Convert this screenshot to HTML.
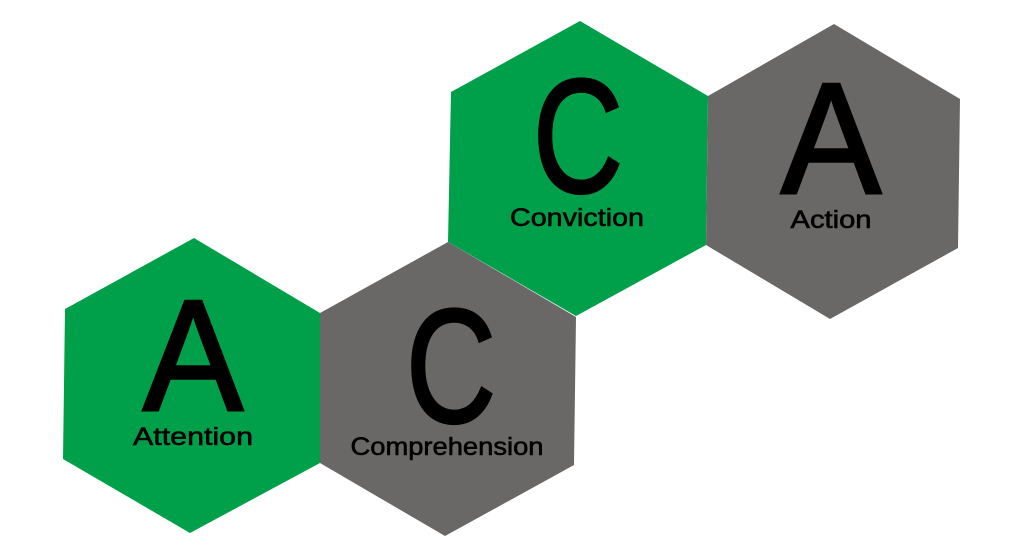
<!DOCTYPE html>
<html><head><style>
html,body{margin:0;padding:0;background:#fff;width:1024px;height:556px;overflow:hidden}
svg{display:block}
text{font-family:"Liberation Sans",sans-serif;fill:#000;text-anchor:middle}
.big{stroke:#000;stroke-width:3}
.sm{stroke:#000;stroke-width:0.6}
</style></head><body>
<svg width="1024" height="556" viewBox="0 0 1024 556">
<polygon fill="#00a04a" points="194,238 320,313 320,463 190,533 63,459 65,309"/>
<polygon fill="#6a6867" points="448,242 576,317 574,465 445,536 320,463 320,313"/>
<polygon fill="#00a04a" points="580,21 708,96 706,245 576,316 448,242 451,92"/>
<polygon fill="#6a6867" points="834,24 960,99 958,248 830,319 706,245 708,96"/>
<text class="big" x="193" y="410" font-size="158" textLength="100" lengthAdjust="spacingAndGlyphs">A</text>
<text class="sm" x="193" y="445" font-size="25" textLength="120" lengthAdjust="spacingAndGlyphs">Attention</text>
<text class="big" x="451" y="422" font-size="162" textLength="90" lengthAdjust="spacingAndGlyphs">C</text>
<text class="sm" x="447" y="455" font-size="25" textLength="193" lengthAdjust="spacingAndGlyphs">Comprehension</text>
<text class="big" x="578" y="192" font-size="162" textLength="90" lengthAdjust="spacingAndGlyphs">C</text>
<text class="sm" x="577" y="226" font-size="25" textLength="134" lengthAdjust="spacingAndGlyphs">Conviction</text>
<text class="big" x="831" y="193" font-size="158" textLength="100" lengthAdjust="spacingAndGlyphs">A</text>
<text class="sm" x="831" y="228" font-size="25" textLength="81" lengthAdjust="spacingAndGlyphs">Action</text>
</svg>
</body></html>
